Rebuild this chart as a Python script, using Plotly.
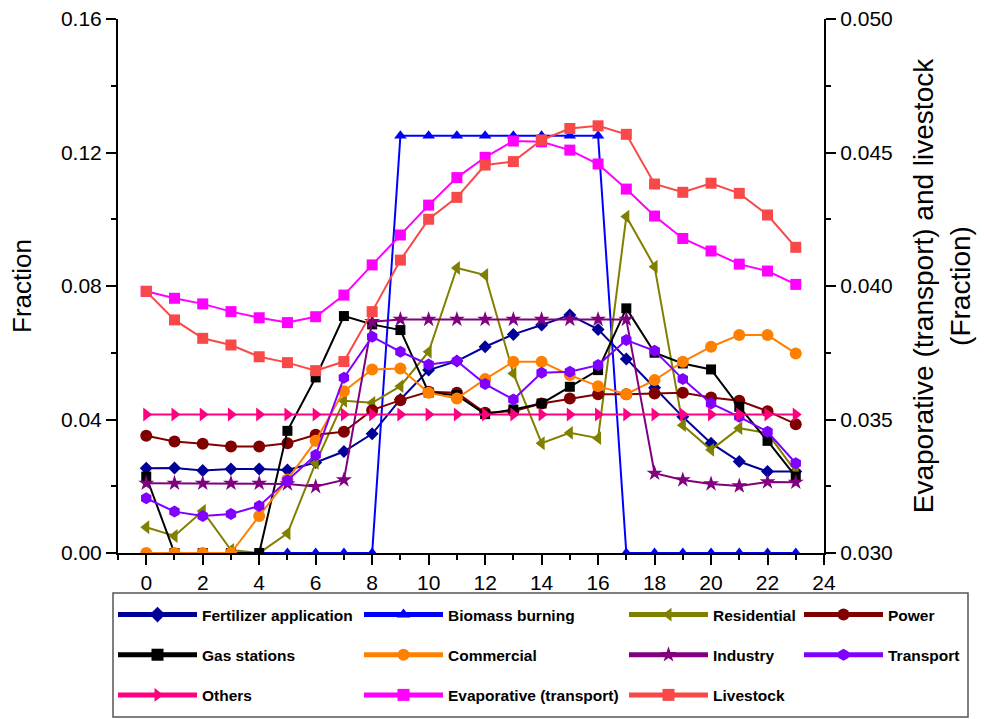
import plotly.graph_objects as go

hours = list(range(24))

fertilizer = [0.0254, 0.0255, 0.0247, 0.0252, 0.0252, 0.0249, 0.0271, 0.0304, 0.0357, 0.0460, 0.0548, 0.0575,
              0.0618, 0.0655, 0.0683, 0.0713, 0.0670, 0.0581, 0.0495, 0.0408, 0.0329, 0.0274, 0.0244, 0.0244]
biomass = [0, 0, 0, 0, 0, 0, 0, 0, 0, 0.125, 0.125, 0.125, 0.125, 0.125, 0.125, 0.125, 0.125,
           0, 0, 0, 0, 0, 0, 0]
residential = [0.0077, 0.0051, 0.0126, 0.0009, 0.0, 0.0059, 0.0270, 0.0456, 0.0450, 0.0500, 0.0603, 0.0854,
               0.0833, 0.0538, 0.0329, 0.0360, 0.0344, 0.1008, 0.0858, 0.0383, 0.0309, 0.0374, 0.0359, 0.0244]
power = [0.0351, 0.0334, 0.0327, 0.0319, 0.0319, 0.0329, 0.0354, 0.0363, 0.0428, 0.0458, 0.0483, 0.0480,
         0.0420, 0.0425, 0.0448, 0.0463, 0.0476, 0.0476, 0.0478, 0.0480, 0.0466, 0.0456, 0.0425, 0.0386]
gas = [0.0229, 0.0, 0.0, 0.0, 0.0, 0.0366, 0.0526, 0.0710, 0.0685, 0.0668, 0.0481, 0.0473,
       0.0416, 0.0430, 0.0448, 0.0498, 0.0548, 0.0733, 0.0600, 0.0568, 0.0550, 0.0438, 0.0336, 0.0229]
commercial = [0.0, 0.0, 0.0, 0.0, 0.0111, 0.0220, 0.0336, 0.0485, 0.0550, 0.0553, 0.0480, 0.0463,
              0.0521, 0.0573, 0.0573, 0.0533, 0.0500, 0.0476, 0.0518, 0.0573, 0.0618, 0.0653, 0.0653, 0.0598]
industry = [0.0209, 0.0209, 0.0209, 0.0209, 0.0209, 0.0207, 0.0199, 0.0219, 0.0693, 0.0700, 0.0700, 0.0700,
            0.0700, 0.0700, 0.0700, 0.0700, 0.0700, 0.0700, 0.0239, 0.0219, 0.0207, 0.0201, 0.0213, 0.0212]
transport = [0.0164, 0.0124, 0.0111, 0.0117, 0.0141, 0.0217, 0.0294, 0.0525, 0.0648, 0.0603, 0.0565, 0.0575,
             0.0506, 0.0460, 0.0540, 0.0543, 0.0563, 0.0638, 0.0606, 0.0521, 0.0448, 0.0408, 0.0363, 0.0269]
others = [0.0415] * 24
evaporative = [0.03980, 0.03954, 0.03933, 0.03904, 0.03881, 0.03863, 0.03885, 0.03966, 0.04079, 0.04191,
               0.04303, 0.04406, 0.04482, 0.04543, 0.04540, 0.04509, 0.04457, 0.04363, 0.04262, 0.04178,
               0.04131, 0.04082, 0.04056, 0.04006]
livestock = [0.03980, 0.03873, 0.03804, 0.03779, 0.03735, 0.03713, 0.03683, 0.03717, 0.03904, 0.04097,
             0.04250, 0.04332, 0.04453, 0.04466, 0.04547, 0.04590, 0.04600, 0.04568, 0.04382, 0.04351,
             0.04385, 0.04347, 0.04266, 0.04145]

series = [
    ("Fertilizer application", fertilizer, "#000099", "diamond", 10, "y", "legend"),
    ("Biomass burning", biomass, "#0000FF", "triangle-up", 11, "y", "legend2"),
    ("Residential", residential, "#808000", "triangle-left", 12, "y", "legend3"),
    ("Power", power, "#800000", "circle", 12, "y", "legend4"),
    ("Gas stations", gas, "#000000", "square", 10, "y", "legend"),
    ("Commercial", commercial, "#FF8000", "circle", 12, "y", "legend2"),
    ("Industry", industry, "#800080", "star", 12, "y", "legend3"),
    ("Transport", transport, "#8000FF", "hexagon", 12, "y", "legend4"),
    ("Others", others, "#FF0080", "triangle-right", 12, "y", "legend"),
    ("Evaporative (transport)", evaporative, "#FF00FF", "square", 11, "y2", "legend2"),
    ("Livestock", livestock, "#F84848", "square", 11, "y2", "legend3"),
]

fig = go.Figure()
for name, vals, color, sym, size, yax, leg in series:
    fig.add_trace(go.Scatter(
        x=hours, y=vals, name=name, mode="lines+markers", yaxis=yax, legend=leg,
        legendgroup=name,
        line=dict(color=color, width=2),
        marker=dict(symbol=sym, size=size, color=color, line=dict(width=0)),
    ))

W, H = 984, 719
L, R, T, B = 118, 824, 19, 553
pw, ph = R - L, B - T

def px2x(p):
    return (p - L) / pw

def py2y(p):
    return (B - p) / ph

tick_font = dict(family="Liberation Sans, Arial", size=21, color="black")
left_title_font = dict(family="Liberation Sans, Arial", size=26, color="black")
right_title_font = dict(family="Liberation Sans, Arial", size=28, color="black")
leg_font = dict(family="Liberation Sans, Arial", size=15.5, color="black", weight="bold")

legend_common = dict(
    orientation="v", xanchor="left", yanchor="top", bgcolor="rgba(0,0,0,0)",
    borderwidth=0, font=leg_font, itemwidth=79, tracegroupgap=17, itemsizing="constant",
)
leg_y = py2y(598)
fig.update_layout(
    width=W, height=H,
    margin=dict(l=L, r=W - R, t=T, b=H - B, pad=0, autoexpand=False),
    plot_bgcolor="white", paper_bgcolor="white",
    legend=dict(x=px2x(113), y=leg_y, **legend_common),
    legend2=dict(x=px2x(359), y=leg_y, **legend_common),
    legend3=dict(x=px2x(624), y=leg_y, **legend_common),
    legend4=dict(x=px2x(799), y=leg_y, **legend_common),
    xaxis=dict(
        range=[-1, 24], tickmode="array", tickvals=list(range(0, 25, 2)),
        ticks="outside", ticklen=10, tickwidth=2, tickcolor="black",
        minor=dict(dtick=1, tick0=0, ticks="outside", ticklen=5, tickwidth=2, tickcolor="black"),
        showline=True, linewidth=2, linecolor="black", showgrid=False, zeroline=False,
        tickfont=tick_font,
    ),
    xaxis2=dict(
        range=[-1, 24], overlaying="x", side="top", tickmode="linear", tick0=0, dtick=1,
        ticks="inside", ticklen=10, tickwidth=2, tickcolor="black", showticklabels=False,
        showline=True, linewidth=2, linecolor="black", showgrid=False, zeroline=False,
    ),
    yaxis=dict(
        range=[0, 0.16], tickmode="array", tickvals=[0, 0.04, 0.08, 0.12, 0.16],
        tickformat=".2f", ticks="outside", ticklen=10, tickwidth=2, tickcolor="black",
        minor=dict(tickvals=[0.02, 0.06, 0.10, 0.14], ticks="outside", ticklen=5, tickwidth=2, tickcolor="black"),
        showline=True, linewidth=2, linecolor="black", showgrid=False, zeroline=False,
        tickfont=tick_font, title=dict(text="Fraction", font=left_title_font, standoff=22),
    ),
    yaxis2=dict(
        range=[0.03, 0.05], overlaying="y", side="right", tickmode="array",
        tickvals=[0.030, 0.035, 0.040, 0.045, 0.050], tickformat=".3f",
        ticks="outside", ticklen=10, tickwidth=2, tickcolor="black",
        minor=dict(tickvals=[0.0325, 0.0375, 0.0425, 0.0475], ticks="outside", ticklen=5, tickwidth=2, tickcolor="black"),
        showline=True, linewidth=2, linecolor="black", showgrid=False, zeroline=False,
        tickfont=tick_font,
        title=dict(text="Evaporative (transport) and livestock<br>(Fraction)", font=right_title_font, standoff=22),
    ),
    shapes=[dict(type="rect", xref="paper", yref="paper",
                 x0=px2x(113), x1=px2x(968), y0=py2y(593), y1=py2y(717),
                 line=dict(color="#555555", width=1.5), fillcolor="rgba(0,0,0,0)")],
)

fig.write_html("out.html")
